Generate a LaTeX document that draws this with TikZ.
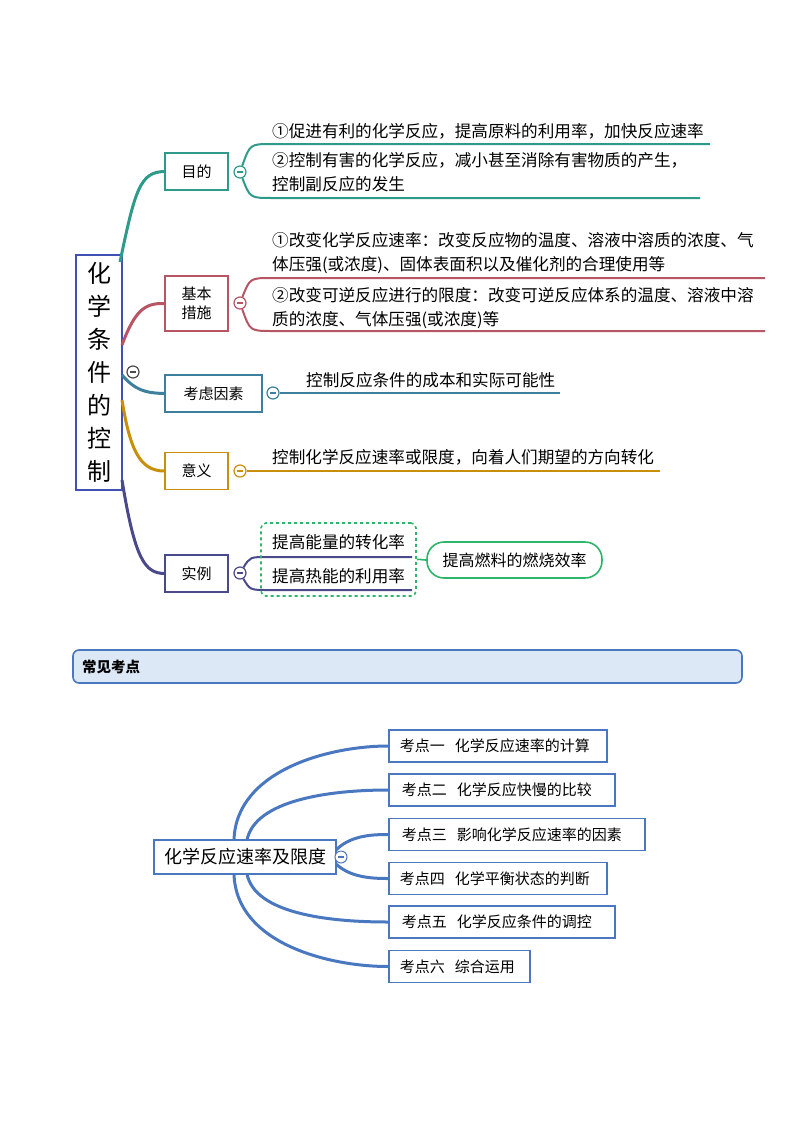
\documentclass[tikz,border=0pt]{standalone}
\usepackage{fontspec}
\setmainfont{Noto Sans CJK SC}
\begin{document}
\begin{tikzpicture}[x=1pt,y=-1pt,
  txt/.style={anchor=west,inner sep=0pt,font=\fontsize{16.6}{24}\selectfont,align=left},
  br/.style={draw=#1,line width=1.6pt,fill=white,minimum height=37pt,inner sep=0pt,font=\fontsize{15}{19}\selectfont,align=center},
  col/.style={circle,draw=#1,line width=1.2pt,fill=white,minimum size=12pt,inner sep=0pt},
  kbox/.style={draw=kb,line width=1.6pt,fill=white,anchor=west,minimum height=32pt,inner sep=0pt,text width=#1,align=left,font=\fontsize{15}{18}\selectfont},
  kl/.style={draw=kb,line width=3pt}]
\definecolor{teal1}{HTML}{2E9A8A}
\definecolor{red1}{HTML}{B85565}
\definecolor{sb}{HTML}{3D7F9C}
\definecolor{or1}{HTML}{C8900A}
\definecolor{pu}{HTML}{4A4A8A}
\definecolor{rootb}{HTML}{3F51B5}
\definecolor{gr}{HTML}{2DB56A}
\definecolor{kb}{HTML}{4A78C0}
\definecolor{hdr}{HTML}{DCE8F6}
\useasboundingbox (0,0) rectangle (800,1132);
% root
\node[draw=rootb,line width=2.5pt,minimum width=46pt,minimum height=235pt,inner sep=0pt,align=center,font=\fontsize{24}{33}\selectfont] (root) at (99,372.5) {化\\学\\条\\件\\的\\控\\制};
% branch boxes
\node[br=teal1,minimum width=63pt] (b1) at (196.5,171.5) {目的};
\node[br=red1,minimum width=63pt,minimum height=55pt] (b2) at (196.5,303.5) {基本\\措施};
\node[br=sb,minimum width=97pt] (b3) at (213.5,393.5) {考虑因素};
\node[br=or1,minimum width=63pt] (b4) at (196.5,471) {意义};
\node[br=pu,minimum width=63pt] (b5) at (196.5,573.5) {实例};
% root curves
\draw[teal1,line width=3pt] (120,262) .. controls (135,190) and (140,172) .. (b1.west);
\draw[red1,line width=3pt] (122,345) .. controls (135,310) and (145,303) .. (b2.west);
\draw[sb,line width=3pt] (122,375) .. controls (135,390) and (145,393) .. (b3.west);
\draw[or1,line width=3pt] (122,400) .. controls (130,450) and (140,471) .. (b4.west);
\draw[pu,line width=3pt] (122,480) .. controls (135,560) and (145,573) .. (b5.west);
% 目的
\node[col=teal1] (c1) at (240,172) {};
\draw[teal1,line width=2pt] (c1) .. controls (250,144) .. (272,144) -- (710,144);
\draw[teal1,line width=2pt] (c1) .. controls (250,198) .. (272,198) -- (700,198);
\node[txt] (t11) at (272,131) {①促进有利的化学反应，提高原料的利用率，加快反应速率};
\node[txt] (t12) at (272,172) {②控制有害的化学反应，减小甚至消除有害物质的产生，\\控制副反应的发生};
% 基本措施
\node[col=red1] (c2) at (240,303) {};
\draw[red1,line width=2pt] (c2) .. controls (250,278) .. (272,278) -- (765,278);
\draw[red1,line width=2pt] (c2) .. controls (250,331) .. (272,331) -- (765,331);
\node[txt] (t21) at (272,253) {①改变化学反应速率：改变反应物的温度、溶液中溶质的浓度、气\\体压强(或浓度)、固体表面积以及催化剂的合理使用等};
\node[txt] (t22) at (272,308) {②改变可逆反应进行的限度：改变可逆反应体系的温度、溶液中溶\\质的浓度、气体压强(或浓度)等};
% 考虑因素
\node[col=sb] (c3) at (273,393) {};
\draw[sb,line width=2pt] (c3) .. controls (285,393) .. (300,393) -- (560,393);
\node[txt] (t3) at (306,380) {控制反应条件的成本和实际可能性};
% 意义
\node[col=or1] (c4) at (240,471) {};
\draw[or1,line width=2pt] (c4) -- (660,471);
\node[txt] (t4) at (272,457) {控制化学反应速率或限度，向着人们期望的方向转化};
% 实例
\node[col=pu] (c5) at (240,573) {};
\draw[pu,line width=2pt] (c5) .. controls (250,557) .. (268,557) -- (412,557);
\draw[pu,line width=2pt] (c5) .. controls (250,590) .. (268,590) -- (412,590);
\node[txt] (t51) at (272,542) {提高能量的转化率};
\node[txt] (t52) at (272,576) {提高热能的利用率};
\node[draw=gr,dashed,line width=1.6pt,rounded corners=5pt,minimum width=155pt,minimum height=73pt] (dash) at (338.5,559.5) {};
\node[draw=gr,line width=1.6pt,rounded corners=17pt,minimum width=175pt,minimum height=36pt,inner sep=0pt,font=\fontsize{16}{19}\selectfont] (g) at (514.5,560) {提高燃料的燃烧效率};
\draw[gr,line width=1.6pt] (dash.east) .. controls (422,559) and (420,560) .. (g.west);
% collapse circles
\node[col=black!70] (c0) at (133,372) {};
\foreach \n/\cc in {c0/black!70,c1/teal1,c2/red1,c3/sb,c4/or1,c5/pu}{
  \draw[\cc,line width=1.2pt] ([xshift=-3pt]\n.center)--([xshift=3pt]\n.center);}
% header
\node[draw=kb,line width=1.6pt,fill=hdr,rounded corners=6pt,minimum width=669pt,minimum height=33pt] (hdr) at (407.5,666.5) {};
\node[anchor=west,inner sep=0pt,font=\fontsize{14.5}{17}\selectfont\bfseries] (ht) at (82,667) {常见考点};
% bottom
\node[draw=kb,line width=1.6pt,minimum width=182pt,minimum height=34pt,inner sep=0pt,font=\fontsize{18}{20}\selectfont] (ctr) at (245,857) {化学反应速率及限度};
\node[kbox=218pt] (k1) at (388,746) {\hspace{11pt}考点一\ \ 化学反应速率的计算};
\node[kbox=226pt] (k2) at (388,790) {\hspace{13pt}考点二\ \ 化学反应快慢的比较};
\node[kbox=256pt] (k3) at (388,834.5) {\hspace{13pt}考点三\ \ 影响化学反应速率的因素};
\node[kbox=218pt] (k4) at (388,878.5) {\hspace{11pt}考点四\ \ 化学平衡状态的判断};
\node[kbox=226pt] (k5) at (388,922) {\hspace{13pt}考点五\ \ 化学反应条件的调控};
\node[kbox=141pt] (k6) at (388,966.5) {\hspace{11pt}考点六\ \ 综合运用};
\draw[kl] (234,840) .. controls (236,770) and (330,746) .. (k1.west);
\draw[kl] (247,840) .. controls (255,800) and (330,790) .. (k2.west);
\draw[kl] (336,850) .. controls (350,836) and (370,834.5) .. (k3.west);
\draw[kl] (336,864) .. controls (350,877) and (370,878.5) .. (k4.west);
\draw[kl] (247,874) .. controls (255,914) and (330,922) .. (k5.west);
\draw[kl] (234,874) .. controls (236,944) and (330,966.5) .. (k6.west);
\node[col=kb,line width=1pt] (c6) at (341,857) {};
\draw[kb,line width=1.2pt] ([xshift=-3pt]c6.center)--([xshift=3pt]c6.center);
\end{tikzpicture}
\end{document}
